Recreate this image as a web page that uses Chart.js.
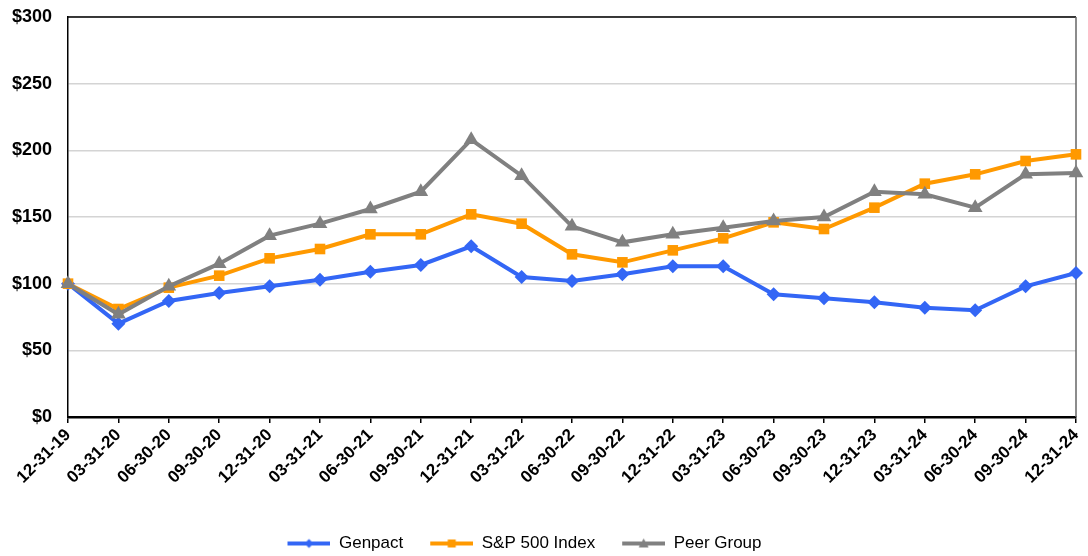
<!DOCTYPE html>
<html lang="en">
<head>
<meta charset="UTF-8">
<title>Cumulative total return</title>
<script src="https://cdn.jsdelivr.net/npm/chart.js@4.4.0/dist/chart.umd.min.js"></script>
<style>
  html, body { margin: 0; padding: 0; background: #fff; }
</style>
</head>
<body>

<canvas id="chart" width="1088" height="556"></canvas>

<script>

const labels = ['12-31-19', '03-31-20', '06-30-20', '09-30-20', '12-31-20', '03-31-21', '06-30-21',
                '09-30-21', '12-31-21', '03-31-22', '06-30-22', '09-30-22', '12-31-22', '03-31-23',
                '06-30-23', '09-30-23', '12-31-23', '03-31-24', '06-30-24', '09-30-24', '12-31-24'];
const genpact = [100, 70, 87, 93, 98, 103, 109, 114, 128, 105, 102, 107, 113, 113, 92, 89, 86, 82, 80, 98, 108];
const sp500   = [100, 81, 97, 106, 119, 126, 137, 137, 152, 145, 122, 116, 125, 134, 146, 141, 157, 175, 182, 192, 197];
const peers   = [100, 77, 98, 115, 136, 145, 156, 169, 208, 181, 143, 131, 137, 142, 147, 150, 169, 167, 157, 182, 183];
const yTickLabels = ['$0', '$50', '$100', '$150', '$200', '$250', '$300'];

const FONT = '"Liberation Sans", Arial, sans-serif';
const BLUE = '#3366f5';
const ORANGE = '#ff9900';
const GREY = '#808080';

// line-with-marker pictures for the legend; blank on the left acts as gap between items
function legendIcon(color, shape) {
    const c = document.createElement('canvas');
    c.width = 64; c.height = 12;
    const g = c.getContext('2d');
    const x0 = 21, mid = 42.5;
    g.strokeStyle = color; g.lineWidth = 4;
    g.beginPath(); g.moveTo(x0, 6); g.lineTo(64, 6); g.stroke();
    g.fillStyle = color;
    g.beginPath();
    if (shape === 'diamond') {
        g.moveTo(mid, 1.5); g.lineTo(mid + 4.5, 6); g.lineTo(mid, 10.5); g.lineTo(mid - 4.5, 6);
    } else if (shape === 'square') {
        g.rect(mid - 4, 2, 8, 8);
    } else {
        g.moveTo(mid, 1); g.lineTo(mid + 5, 10); g.lineTo(mid - 5, 10);
    }
    g.closePath(); g.fill();
    return c;
}
const icons = [legendIcon(BLUE, 'diamond'), legendIcon(ORANGE, 'square'), legendIcon(GREY, 'triangle')];

// top and right edges of the plot box, and nudge the legend a bit left
const frame = {
    id: 'frame',
    afterLayout(chart) {
        chart.legend.left -= 24;
        chart.legend.right -= 24;
    },
    beforeDatasetsDraw(chart) {
        const { ctx, chartArea: a } = chart;
        ctx.save();
        ctx.strokeStyle = '#000'; ctx.lineWidth = 1.5;
        ctx.beginPath(); ctx.moveTo(a.left, a.top); ctx.lineTo(a.right, a.top); ctx.stroke();
        ctx.strokeStyle = '#666'; ctx.lineWidth = 1.5;
        ctx.beginPath(); ctx.moveTo(a.right, a.top); ctx.lineTo(a.right, a.bottom); ctx.stroke();
        ctx.restore();
    }
};

const ctx = document.getElementById('chart').getContext('2d');
const myChart = new Chart(ctx, {
    type: 'line',
    data: {
        labels: labels,
        datasets: [
            { label: 'Genpact', data: genpact, borderColor: BLUE, backgroundColor: BLUE,
              pointStyle: 'rectRot', pointRadius: 7, order: 2 },
            { label: 'S&P 500 Index', data: sp500, borderColor: ORANGE, backgroundColor: ORANGE,
              pointStyle: 'rect', pointRadius: 7.5, order: 1 },
            { label: 'Peer Group', data: peers, borderColor: GREY, backgroundColor: GREY,
              pointStyle: 'triangle', pointRadius: 8.5, order: 0 }
        ]
    },
    options: {
        responsive: false,
        animation: false,
        elements: {
            line: { borderWidth: 4, tension: 0 },
            point: { borderWidth: 0, hoverRadius: 8 }
        },
        layout: { padding: { top: 17, right: 12, left: 0, bottom: -6 } },
        plugins: {
            tooltip: { enabled: false },
            legend: {
                position: 'bottom',
                labels: {
                    usePointStyle: true,
                    pointStyleWidth: 64,
                    padding: 6,
                    color: '#000',
                    font: { family: FONT, size: 17 },
                    generateLabels(chart) {
                        const items = Chart.defaults.plugins.legend.labels.generateLabels(chart);
                        items.forEach(it => { it.pointStyle = icons[it.datasetIndex]; });
                        return items;
                    },
                    sort: (a, b) => a.datasetIndex - b.datasetIndex
                }
            }
        },
        scales: {
            x: {
                grid: { drawOnChartArea: false, drawTicks: true, tickLength: 6, color: '#000', lineWidth: 1.5 },
                border: { color: '#000', width: 2.5 },
                ticks: {
                    autoSkip: false, minRotation: 45, maxRotation: 45, padding: 2,
                    color: '#000', font: { family: FONT, size: 17, weight: 'bold' }
                },
                afterFit(s) { s.height = 112; s.paddingLeft = 0; s.paddingRight = 0; }
            },
            y: {
                min: 0, max: 300,
                grid: { color: '#d4d4d4', lineWidth: 1.5, drawTicks: false },
                border: { color: '#000', width: 1.5 },
                ticks: {
                    stepSize: 50, padding: 16, color: '#000',
                    font: { family: FONT, size: 18, weight: 'bold' },
                    callback: (v, i) => yTickLabels[i]
                },
                afterFit(s) { s.width = 68; s.paddingTop = 0; s.paddingBottom = 0; }
            }
        }
    },
    plugins: [frame]
});

</script>

</body>
</html>
